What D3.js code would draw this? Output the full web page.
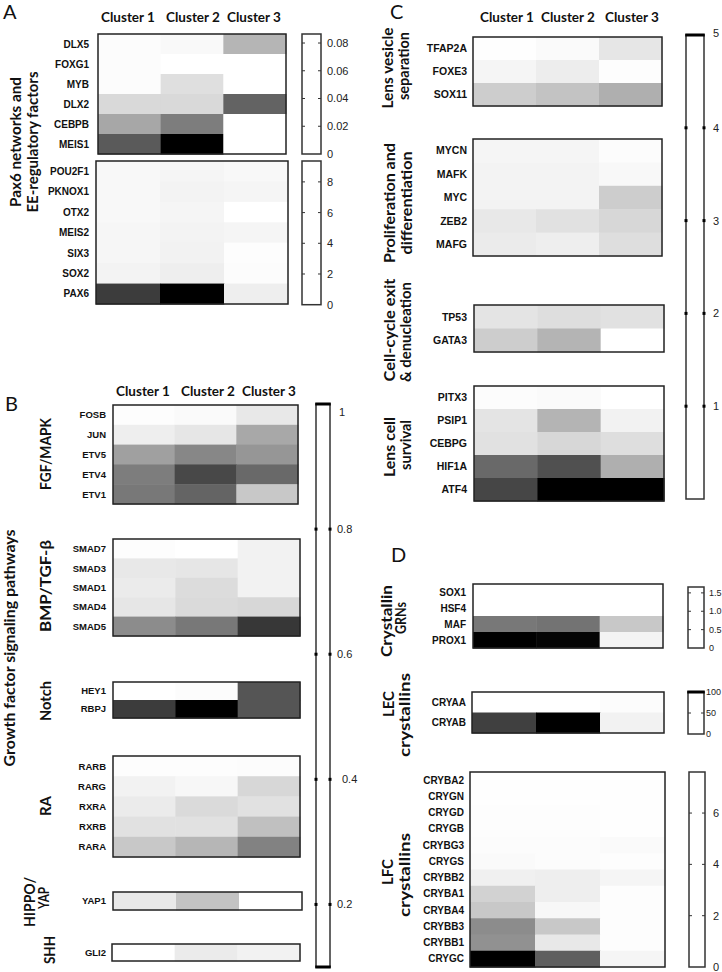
<!DOCTYPE html>
<html><head><meta charset="utf-8">
<script src="https://cdn.jsdelivr.net/npm/d3@7/dist/d3.min.js"></script>
<style>body{margin:0;background:#fff}svg{display:block}</style>
</head><body>
<script>
// ---------------- DATA ----------------
const clusters = ["Cluster 1", "Cluster 2", "Cluster 3"];

// Panel A
const genesA1 = ["DLX5", "FOXG1", "MYB", "DLX2", "CEBPB", "MEIS1"];
const valuesA1 = [[0.001,0.002,0.025],[0.001,0,0],[0.001,0.011,0],[0.013,0.013,0.053],[0.030,0.044,0],[0.056,0.0865,0]];
const ticksA1 = [0, 0.02, 0.04, 0.06, 0.08];
const genesA2 = ["POU2F1", "PKNOX1", "OTX2", "MEIS2", "SIX3", "SOX2", "PAX6"];
const valuesA2 = [[0.26,0.37,0.26],[0.26,0.44,0.37],[0.26,0.37,0],[0.33,0.44,0.37],[0.33,0.48,0.07],[0.44,0.62,0.11],[7.16,9.36,0.62]];
const ticksA2 = [0, 2, 4, 6, 8];

// Panel B
const genesFGF = ["FOSB", "JUN", "ETV5", "ETV4", "ETV1"];
const valuesFGF = [[0.107,0.118,0.181],[0.160,0.188,0.407],[0.435,0.524,0.471],[0.559,0.746,0.629],[0.576,0.647,0.294]];
const genesBMP = ["SMAD7", "SMAD3", "SMAD1", "SMAD4", "SMAD5"];
const valuesBMP = [[0.107,0.1,0.146],[0.181,0.188,0.146],[0.171,0.224,0.146],[0.188,0.231,0.241],[0.506,0.576,0.806]];
const genesNotch = ["HEY1", "RBPJ"];
const valuesNotch = [[0.1,0.111,0.700],[0.788,1.0,0.700]];
const genesRA = ["RARB", "RARG", "RXRA", "RXRB", "RARA"];
const valuesRA = [[0.107,0.107,0.111],[0.146,0.128,0.241],[0.171,0.231,0.206],[0.206,0.206,0.322],[0.294,0.357,0.541]];
const genesYAP = ["YAP1"];
const valuesYAP = [[0.181,0.312,0.1]];
const genesSHH = ["GLI2"];
const valuesSHH = [[0.1,0.171,0.146]];
const ticksB = [0.2, 0.4, 0.6, 0.8, 1];

// Panel C
const genesLV = ["TFAP2A", "FOXE3", "SOX11"];
const valuesLV = [[0.02,0.10,0.49],[0.20,0.35,0.04],[0.98,1.18,1.57]];
const genesPD = ["MYCN", "MAFK", "MYC", "ZEB2", "MAFG"];
const valuesPD = [[0.20,0.20,0.06],[0.24,0.24,0.14],[0.24,0.24,0.98],[0.45,0.59,0.78],[0.39,0.33,0.65]];
const genesCC = ["TP53", "GATA3"];
const valuesCC = [[0.53,0.65,0.59],[0.98,1.47,0]];
const genesSV = ["PITX3", "PSIP1", "CEBPG", "HIF1A", "ATF4"];
const valuesSV = [[0.06,0.10,0],[0.53,1.47,0.25],[0.59,0.78,0.65],[2.94,3.43,1.57],[3.63,5,5]];
const ticksC = [1, 2, 3, 4, 5];

// Panel D
const genesGRN = ["SOX1", "HSF4", "MAF", "PROX1"];
const valuesGRN = [[0,0,0],[0,0,0],[0.88,0.91,0.36],[1.66,1.63,0.07]];
const ticksD1 = [0, 0.5, 1.0, 1.5];
const tickLabelsD1 = ["0", "0.5", "1.0", "1.5"];
const genesLEC = ["CRYAA", "CRYAB"];
const valuesLEC = [[0,0,1],[75,100,5]];
const ticksD2 = [0, 50, 100];
const genesLFC = ["CRYBA2","CRYGN","CRYGD","CRYGB","CRYBG3","CRYGS","CRYBB2","CRYBA1","CRYBA4","CRYBB3","CRYBB1","CRYGC"];
const valuesLFC = [[0.03,0.03,0.03],[0.03,0.03,0.03],[0.06,0.06,0.03],[0.06,0.06,0.03],[0.09,0.09,0.15],[0.15,0.09,0.06],[0.45,0.51,0.30],[1.34,0.51,0.06],[1.64,0.24,0.06],[3.43,1.64,0.06],[3.28,0.69,0.06],[7.6,4.77,0.30]];
const ticksD3 = [0, 2, 4, 6];

// ---------------- DRAWING ----------------
const W = 722, H = 972;
const svg = d3.select("body").append("svg").attr("width", W).attr("height", H);
svg.append("rect").attr("width", W).attr("height", H).attr("fill", "#fff");

const HEAD = "Lato, 'Open Sans', sans-serif";
const ARIAL = "'Liberation Sans', Arial, sans-serif";

function heat(genes, values, domain, box, labelX, fs) {
  const g = svg.append("g");
  const x = d3.scaleBand().domain(clusters).range([box.x0, box.x1]);
  const y = d3.scaleBand().domain(genes).range([box.y0, box.y1]);
  const c = d3.scaleLinear().domain(domain).range(["#ffffff", "#000000"]).clamp(true);
  genes.forEach((gn, i) => {
    clusters.forEach((cl, j) => {
      g.append("rect").attr("x", x(cl)).attr("y", y(gn))
        .attr("width", x.bandwidth() + 0.5).attr("height", y.bandwidth() + 0.5)
        .attr("fill", c(values[i][j]));
    });
    g.append("text").attr("x", labelX).attr("y", y(gn) + y.bandwidth() / 2)
      .attr("dy", "0.36em").attr("text-anchor", "end")
      .attr("font-family", ARIAL).attr("font-weight", "bold").attr("font-size", fs || 10)
      .attr("fill", "#111").text(gn);
  });
  g.append("rect").attr("x", box.x0).attr("y", box.y0)
    .attr("width", box.x1 - box.x0).attr("height", box.y1 - box.y0)
    .attr("fill", "none").attr("stroke", "#222").attr("stroke-width", 1.5);
}

function colorbar(domain, box, ticks, labels, opts) {
  opts = opts || {};
  const g = svg.append("g");
  const s = d3.scaleLinear().domain(domain).range([box.y1, box.y0]);
  g.append("rect").attr("x", box.x0).attr("y", box.y0)
    .attr("width", box.x1 - box.x0).attr("height", box.y1 - box.y0)
    .attr("fill", "#fff").attr("stroke", "#333").attr("stroke-width", 1.5);
  if (opts.capTop) g.append("rect").attr("x", box.x0 - 0.75).attr("y", box.y0 - 1.5)
    .attr("width", box.x1 - box.x0 + 1.5).attr("height", 3).attr("fill", "#000");
  if (opts.capBottom) g.append("rect").attr("x", box.x0 - 0.75).attr("y", box.y1 - 1.5)
    .attr("width", box.x1 - box.x0 + 1.5).attr("height", 3).attr("fill", "#000");
  ticks.forEach((t, i) => {
    const yy = s(t);
    const inside = yy > box.y0 + 2 && yy < box.y1 - 2;
    if (inside) {
      if (opts.dots) {
        [box.x0, box.x1].forEach(xx => g.append("rect").attr("x", xx - 1.5).attr("y", yy - 1.5)
          .attr("width", 3).attr("height", 3).attr("fill", "#000"));
      } else {
        g.append("line").attr("x1", box.x0).attr("x2", box.x0 + 3).attr("y1", yy).attr("y2", yy)
          .attr("stroke", "#333").attr("stroke-width", 1);
        g.append("line").attr("x1", box.x1 - 3).attr("x2", box.x1).attr("y1", yy).attr("y2", yy)
          .attr("stroke", "#333").attr("stroke-width", 1);
      }
    }
    g.append("text").attr("x", opts.labelX + (opts.labelDx ? opts.labelDx[i] : 0))
      .attr("y", yy + (opts.labelDy ? opts.labelDy[i] : 0))
      .attr("dy", "0.36em").attr("font-family", ARIAL).attr("font-size", opts.fs || 11)
      .attr("fill", "#222").text(labels ? labels[i] : t);
  });
}

function header(centers, yb) {
  clusters.forEach((cl, i) => svg.append("text").attr("x", centers[i]).attr("y", yb)
    .attr("text-anchor", "middle").attr("font-family", HEAD).attr("font-weight", "bold")
    .attr("font-size", 13.5).attr("fill", "#111").text(cl));
}

function vlabel(txt, xb, yc, len) {
  svg.append("text").attr("transform", `translate(${xb},${yc}) rotate(-90)`)
    .attr("text-anchor", "middle").attr("font-family", HEAD).attr("font-weight", "bold")
    .attr("font-size", 15.5).attr("fill", "#111")
    .attr("textLength", len).attr("lengthAdjust", "spacingAndGlyphs").text(txt);
}

function letter(txt, x, y) {
  svg.append("text").attr("x", x).attr("y", y).attr("font-family", HEAD)
    .attr("font-size", 20).attr("fill", "#111").text(txt);
}

// ---- Panel A ----
letter("A", 3, 19);
header([128, 193, 254], 22);
heat(genesA1, valuesA1, [0, 0.0865], {x0: 98, x1: 286, y0: 34, y1: 154}, 89, 10);
heat(genesA2, valuesA2, [0, 9.36], {x0: 96, x1: 288, y0: 161, y1: 304}, 89, 10);
colorbar([0, 0.0865], {x0: 302, x1: 321, y0: 34, y1: 154}, ticksA1, ["0","0.02","0.04","0.06","0.08"], {labelX: 327});
colorbar([0, 9.36], {x0: 302, x1: 321, y0: 161, y1: 304.7}, ticksA2, null, {labelX: 327});
vlabel("Pax6 networks and", 21, 142, 130);
vlabel("EE-regulatory factors", 38, 142, 141);

// ---- Panel B ----
letter("B", 5, 411);
header([143, 208, 269], 396);
heat(genesFGF, valuesFGF, [0.1, 1.0], {x0: 113, x1: 298, y0: 405, y1: 504}, 106, 9.5);
heat(genesBMP, valuesBMP, [0.1, 1.0], {x0: 113, x1: 300, y0: 539, y1: 636}, 106, 9.5);
heat(genesNotch, valuesNotch, [0.1, 1.0], {x0: 113, x1: 300, y0: 682, y1: 718}, 106, 9.5);
heat(genesRA, valuesRA, [0.1, 1.0], {x0: 113, x1: 300, y0: 756, y1: 857}, 106, 9.5);
heat(genesYAP, valuesYAP, [0.1, 1.0], {x0: 113, x1: 302, y0: 892, y1: 910}, 106, 9.5);
heat(genesSHH, valuesSHH, [0.1, 1.0], {x0: 112, x1: 300, y0: 944, y1: 961}, 106, 9.5);
colorbar([0.1, 1.0], {x0: 316, x1: 330, y0: 404, y1: 967}, ticksB, ["0.2","0.4","0.6","0.8","1"],
  {labelX: 337, dots: true, capTop: true, capBottom: true, labelDy: [0, 0, 0, 0, 8], labelDx: [0, 5, 0, 0, 2]});
vlabel("Growth factor signaling pathways", 15, 648, 237);
vlabel("FGF/MAPK", 51, 454, 72);
vlabel("BMP/TGF-β", 51, 586, 92);
vlabel("Notch", 51, 701, 40);
vlabel("RA", 51, 806, 20);
vlabel("HIPPO/", 35, 902, 50);
vlabel("YAP", 49, 898, 22);
vlabel("SHH", 55, 950, 28);

// ---- Panel C ----
letter("C", 390, 19);
header([507, 568, 632], 22);
heat(genesLV, valuesLV, [0, 5], {x0: 473, x1: 662, y0: 37, y1: 106}, 467, 10.5);
heat(genesPD, valuesPD, [0, 5], {x0: 473, x1: 662, y0: 139, y1: 256}, 467, 10.5);
heat(genesCC, valuesCC, [0, 5], {x0: 474, x1: 664, y0: 305, y1: 352}, 467, 10.5);
heat(genesSV, valuesSV, [0, 5], {x0: 474, x1: 664, y0: 386, y1: 501}, 467, 10.5);
colorbar([0, 5], {x0: 686, x1: 704, y0: 35, y1: 499}, ticksC, null, {labelX: 713, dots: true, capTop: true, labelDy: [0,0,0,0,-2]});
vlabel("Lens vesicle", 393, 68, 81);
vlabel("separation", 409, 66, 68);
vlabel("Proliferation and", 395, 203, 120);
vlabel("differentiation", 412, 203, 103);
vlabel("Cell-cycle exit", 395, 330, 103);
vlabel("& denucleation", 411, 332, 100);
vlabel("Lens cell", 395, 447, 60);
vlabel("survival", 411, 445, 50);

// ---- Panel D ----
letter("D", 391, 562);
heat(genesGRN, valuesGRN, [0, 1.66], {x0: 473, x1: 663, y0: 584, y1: 648}, 466, 10);
heat(genesLEC, valuesLEC, [0, 100], {x0: 472, x1: 664, y0: 692, y1: 733}, 466, 10);
heat(genesLFC, valuesLFC, [0, 7.6], {x0: 470, x1: 665, y0: 772, y1: 967}, 464, 10);
colorbar([0, 1.66], {x0: 688, x1: 704, y0: 587, y1: 648}, ticksD1, tickLabelsD1, {labelX: 709, fs: 9});
colorbar([0, 100], {x0: 688, x1: 704, y0: 692, y1: 734}, ticksD2, null, {labelX: 706, fs: 9, capTop: true});
colorbar([0, 7.6], {x0: 689, x1: 705, y0: 772, y1: 967}, ticksD3, null, {labelX: 713});
vlabel("Crystallin", 392, 621, 72);
vlabel("GRNs", 406, 618, 32);
vlabel("LEC", 394, 704, 26);
vlabel("crystallins", 410, 715, 84);
vlabel("LFC", 393, 872, 26);
vlabel("crystallins", 410, 875, 84);
</script>
</body></html>
